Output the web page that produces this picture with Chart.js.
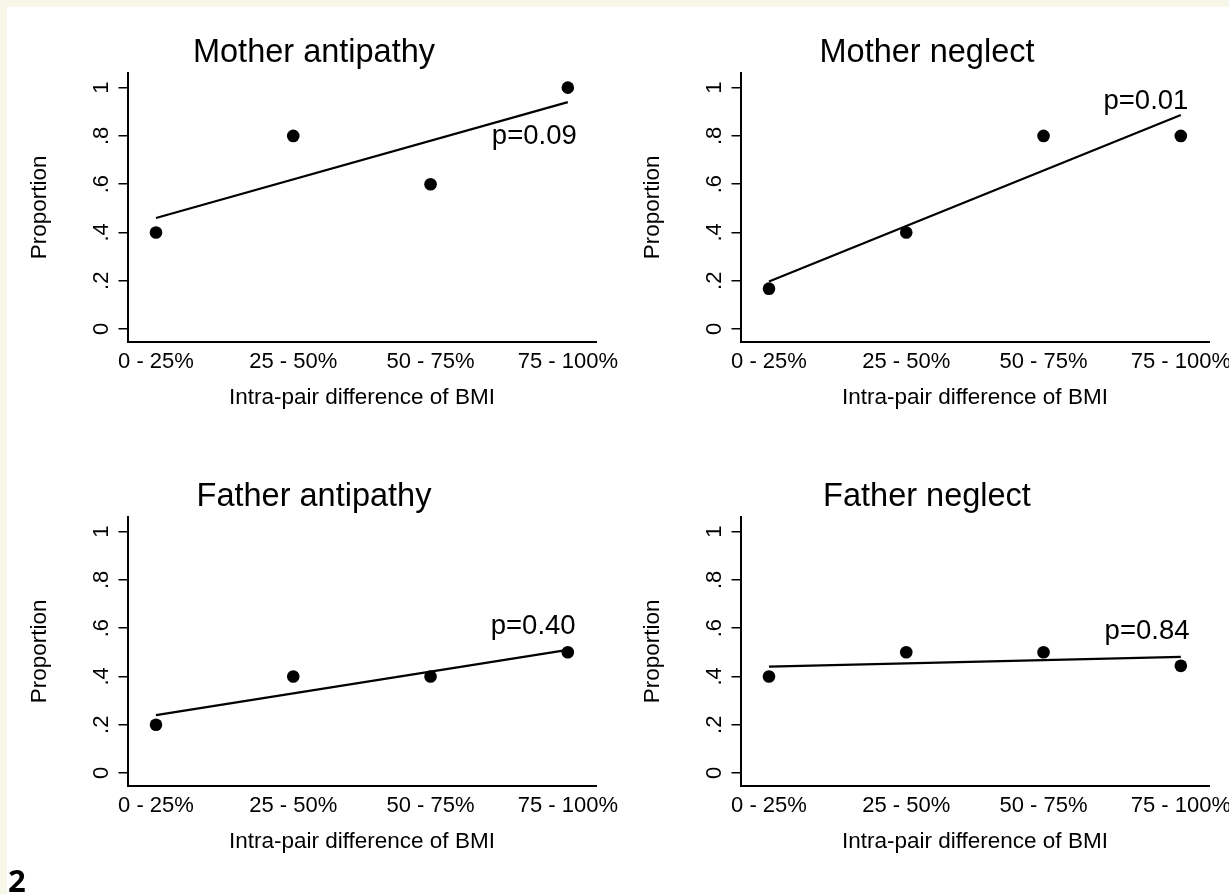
<!DOCTYPE html>
<html>
<head>
<meta charset="utf-8">
<script src="https://cdn.jsdelivr.net/npm/chart.js@4.4.1/dist/chart.umd.min.js"></script>
<style>
  html, body { margin: 0; padding: 0; width: 1229px; height: 894px; overflow: hidden; background: #f6f6e9; }
  #sheet { position: absolute; left: 7px; top: 7px; right: 0; bottom: 0; background: #ffffff; }
  canvas { position: absolute; }
  #fig { position: absolute; left: 8px; top: 865px; font-family: "Open Sans", "DejaVu Sans", sans-serif; font-weight: 700; font-size: 31px; line-height: 1; color: #000; }
</style>
</head>
<body>
<div id="sheet"></div>
<canvas id="c1" width="614" height="444" style="left:7px;top:8px;width:614px;height:444px"></canvas>
<canvas id="c2" width="614" height="444" style="left:620px;top:8px;width:614px;height:444px"></canvas>
<canvas id="c3" width="614" height="444" style="left:7px;top:452px;width:614px;height:444px"></canvas>
<canvas id="c4" width="614" height="444" style="left:620px;top:452px;width:614px;height:444px"></canvas>
<div id="fig">2</div>
<script>
// ---- data ----
const categories = ['0 - 25%', '25 - 50%', '50 - 75%', '75 - 100%'];
const xPositions = [1, 2, 3, 4];
const yTickValues = [0, 0.2, 0.4, 0.6, 0.8, 1];
const yTickLabels = ['0', '.2', '.4', '.6', '.8', '1'];

const panelTitles = ['Mother antipathy', 'Mother neglect', 'Father antipathy', 'Father neglect'];

const motherAntipathy = [0.4, 0.8, 0.6, 1.0];
const motherNeglect   = [0.167, 0.4, 0.8, 0.8];
const fatherAntipathy = [0.2, 0.4, 0.4, 0.5];
const fatherNeglect   = [0.4, 0.5, 0.5, 0.444];

// fitted line end values (at x = 1 and x = 4)
const fitX = [1, 4];
const motherAntipathyFit = [0.46, 0.94];
const motherNeglectFit   = [0.197, 0.887];
const fatherAntipathyFit = [0.24, 0.51];
const fatherNeglectFit   = [0.441, 0.481];

const pLabels = ['p=0.09', 'p=0.01', 'p=0.40', 'p=0.84'];
const pLabelX = [4.065, 4.055, 4.057, 4.063];
const pLabelY = [0.797, 0.942, 0.608, 0.588];

// ---- drawing ----
Chart.defaults.font.family = '"Liberation Sans", Arial, Helvetica, sans-serif';
Chart.defaults.color = '#000';

const FONT_TICK = 22;
const FONT_AXTITLE = 22.5;
const FONT_TITLE = 32.5;
const FONT_P = 27.5;

const pTextPlugin = {
  id: 'pText',
  afterDatasetsDraw(chart, args, opts) {
    const ctx = chart.ctx;
    const xs = chart.scales.x, ys = chart.scales.y;
    ctx.save();
    ctx.fillStyle = '#000';
    ctx.font = FONT_P + 'px "Liberation Sans", Arial, sans-serif';
    ctx.textAlign = 'right';
    ctx.textBaseline = 'middle';
    ctx.fillText(opts.text, xs.getPixelForValue(opts.x), ys.getPixelForValue(opts.y));
    ctx.restore();
  }
};

function zeroPad(s) {
  s.paddingLeft = 0; s.paddingRight = 0; s.paddingTop = 0; s.paddingBottom = 0;
}

function makePanel(id, idx, values, fit) {
  const pts = xPositions.map((x, i) => ({ x: x, y: values[i] }));
  const line = fitX.map((x, i) => ({ x: x, y: fit[i] }));
  new Chart(document.getElementById(id), {
    type: 'scatter',
    data: {
      datasets: [
        { data: pts, showLine: false, pointRadius: 6.3, pointHoverRadius: 6.3,
          pointBackgroundColor: '#000', pointBorderColor: '#000', pointBorderWidth: 0 },
        { data: line, showLine: true, pointRadius: 0, borderColor: '#000', borderWidth: 2.2, fill: false }
      ]
    },
    options: {
      responsive: false,
      animation: false,
      events: [],
      devicePixelRatio: 1,
      layout: { autoPadding: false, padding: { left: 0, right: 0, top: 0, bottom: 0 } },
      plugins: {
        legend: { display: false },
        tooltip: { enabled: false },
        title: {
          display: true,
          text: panelTitles[idx],
          color: '#000',
          font: { size: FONT_TITLE, weight: 'normal' },
          padding: { top: 25.3, bottom: 0.4 }
        },
        pText: { text: pLabels[idx], x: pLabelX[idx], y: pLabelY[idx] }
      },
      scales: {
        x: {
          type: 'linear',
          position: 'bottom',
          min: 0.7925,
          max: 4.2075,
          afterBuildTicks: (s) => { s.ticks = xPositions.map(v => ({ value: v })); },
          afterFit: (s) => { s.height = 110; zeroPad(s); },
          ticks: {
            font: { size: FONT_TICK },
            color: '#000',
            padding: 6.5,
            maxRotation: 0, minRotation: 0,
            autoSkip: false,
            callback: (v) => categories[xPositions.indexOf(v)]
          },
          grid: { display: false, drawTicks: false },
          border: { display: true, color: '#000', width: 2 },
          title: {
            display: true,
            text: 'Intra-pair difference of BMI',
            color: '#000',
            font: { size: FONT_AXTITLE },
            padding: { top: 0, bottom: 41 }
          }
        },
        y: {
          type: 'linear',
          position: 'left',
          min: -0.054,
          max: 1.062,
          afterBuildTicks: (s) => { s.ticks = yTickValues.map(v => ({ value: v })); },
          afterFit: (s) => { s.width = 120.5; zeroPad(s); },
          ticks: {
            font: { size: FONT_TICK },
            color: '#000',
            padding: 7.5,
            minRotation: 90, maxRotation: 90,
            crossAlign: 'center',
            autoSkip: false,
            callback: (v) => yTickLabels[yTickValues.indexOf(v)]
          },
          grid: { display: true, drawOnChartArea: false, drawTicks: true, tickLength: 9,
                  color: '#000', lineWidth: 1.5 },
          border: { display: true, color: '#000', width: 2 },
          title: {
            display: true,
            text: 'Proportion',
            color: '#000',
            font: { size: FONT_AXTITLE },
            padding: { top: 19.5, bottom: 0 }
          }
        },
        pad: {
          type: 'linear',
          position: 'right',
          display: true,
          afterFit: (s) => { s.width = 24.7; zeroPad(s); },
          ticks: { display: false },
          grid: { display: false, drawTicks: false },
          border: { display: false }
        }
      }
    },
    plugins: [pTextPlugin]
  });
}

makePanel('c1', 0, motherAntipathy, motherAntipathyFit);
makePanel('c2', 1, motherNeglect, motherNeglectFit);
makePanel('c3', 2, fatherAntipathy, fatherAntipathyFit);
makePanel('c4', 3, fatherNeglect, fatherNeglectFit);
</script>
</body>
</html>
